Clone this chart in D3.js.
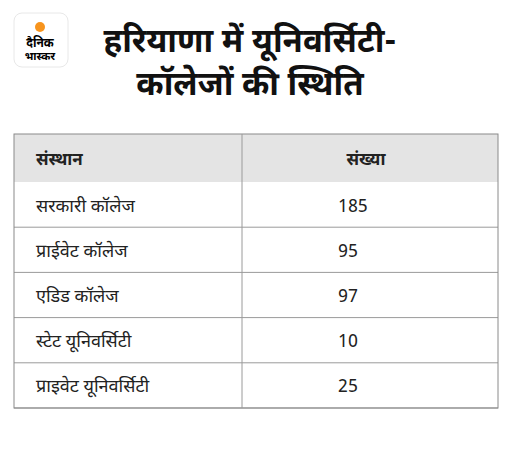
<!DOCTYPE html>
<html><head><meta charset="utf-8">
<script src="https://cdn.jsdelivr.net/npm/d3@7"></script>
<style>body{margin:0;background:#fff}</style>
</head><body>
<script>
const categories = ['सरकारी कॉलेज', 'प्राईवेट कॉलेज', 'एडिड कॉलेज', 'स्टेट यूनिवर्सिटी', 'प्राइवेट यूनिवर्सिटी'];
const counts = [185, 95, 97, 10, 25];
const headers = ['संस्थान', 'संख्या'];
const titleLines = ['हरियाणा में यूनिवर्सिटी-', 'कॉलेजों की स्थिति'];

const font = '"Noto Sans Devanagari", "Noto Sans", "Lohit Devanagari", sans-serif';
const svg = d3.select('body').append('svg').attr('width', 512).attr('height', 470)
    .style('font-family', font);

// logo
const logo = svg.append('g');
logo.append('rect').attr('x', 14).attr('y', 13).attr('width', 54).attr('height', 54).attr('rx', 8)
    .attr('fill', '#fff').attr('stroke', '#e8e8e8');
logo.append('circle').attr('cx', 40).attr('cy', 27).attr('r', 5).attr('fill', '#f7941d');
logo.append('text').attr('x', 40).attr('y', 47).attr('text-anchor', 'middle').attr('font-size', 12)
    .attr('font-weight', 700).text('दैनिक');
logo.append('text').attr('x', 40).attr('y', 60).attr('text-anchor', 'middle').attr('font-size', 11)
    .attr('font-weight', 700).text('भास्कर');

svg.selectAll('.title').data(titleLines).enter().append('text')
    .attr('x', 250).attr('y', (d, i) => 52 + i * 43).attr('text-anchor', 'middle')
    .attr('font-size', 33).attr('font-weight', 700).attr('fill', '#111').text(d => d);

// table
const tLeft = 14, tRight = 498, tSplit = 242, tTop = 134, tBottom = 408, headH = 48;
const y = d3.scaleBand().domain(d3.range(categories.length)).range([tTop + headH, tBottom]);

svg.append('rect').attr('x', tLeft).attr('y', tTop).attr('width', tRight - tLeft).attr('height', headH)
    .attr('fill', '#e4e4e4');
svg.append('text').attr('x', 36).attr('y', tTop + 31).attr('font-size', 17).attr('font-weight', 700)
    .attr('fill', '#222').text(headers[0]);
svg.append('text').attr('x', 366).attr('y', tTop + 31).attr('text-anchor', 'middle').attr('font-size', 17)
    .attr('font-weight', 700).attr('fill', '#222').text(headers[1]);

const rows = svg.selectAll('.row').data(categories).enter().append('g')
    .attr('transform', (d, i) => `translate(0,${y(i)})`);
rows.append('line').attr('x1', tLeft).attr('x2', tRight).attr('y1', y.bandwidth()).attr('y2', y.bandwidth())
    .attr('stroke', '#9a9a9a');
rows.append('text').attr('x', 36).attr('y', y.bandwidth() / 2 + 7).attr('font-size', 18)
    .attr('fill', '#222').text(d => d);
rows.append('text').attr('x', 338).attr('y', y.bandwidth() / 2 + 7).attr('font-size', 18)
    .attr('fill', '#222').text((d, i) => counts[i]);

svg.append('rect').attr('x', tLeft).attr('y', tTop).attr('width', tRight - tLeft).attr('height', tBottom - tTop)
    .attr('fill', 'none').attr('stroke', '#8a8a8a');
svg.append('line').attr('x1', tSplit).attr('x2', tSplit).attr('y1', tTop).attr('y2', tBottom).attr('stroke', '#9a9a9a');
</script>
</body></html>
